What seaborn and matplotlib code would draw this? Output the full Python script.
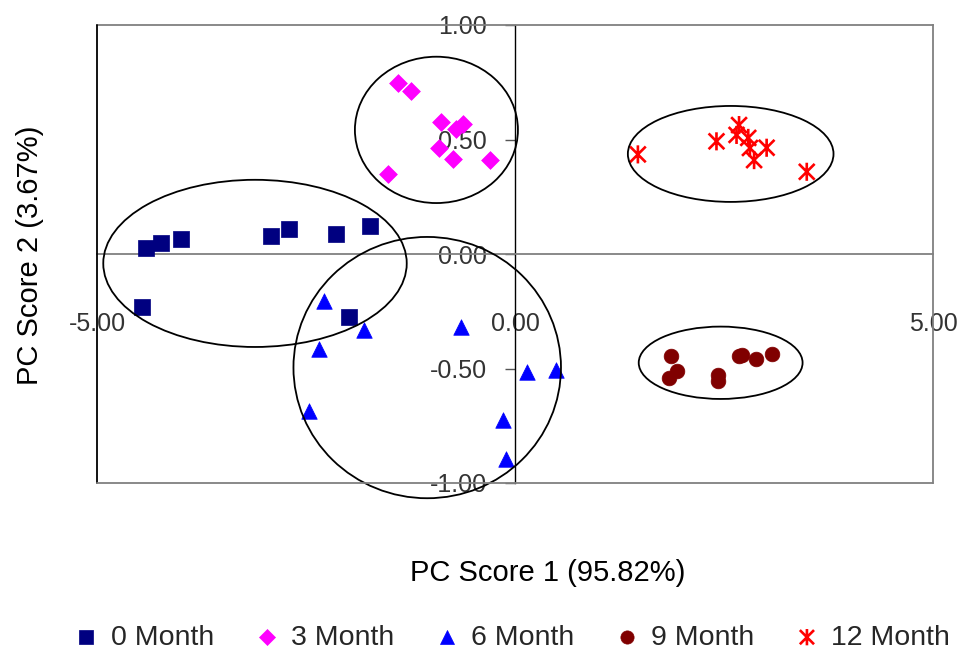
import numpy as np
import pandas as pd
import seaborn as sns
import matplotlib
matplotlib.use("Agg")
import matplotlib.pyplot as plt
from matplotlib.path import Path
from matplotlib.patches import Ellipse

sns.set_style("white")
plt.rcParams["font.family"] = ["Liberation Sans", "DejaVu Sans"]

# PCA scores per storage time
groups = ["0 Month", "3 Month", "6 Month", "9 Month", "12 Month"]
colors = ["#000080", "#FF00FF", "#0000FF", "#800000", "#FF0000"]

pc1_m0 = [-4.41, -4.24, -4.00, -2.92, -2.70, -2.14, -1.73, -4.46, -1.99]
pc2_m0 = [0.028, 0.047, 0.067, 0.080, 0.108, 0.086, 0.122, -0.230, -0.275]

pc1_m3 = [-1.40, -1.24, -0.88, -0.62, -0.70, -0.91, -0.74, -0.30, -1.52]
pc2_m3 = [0.745, 0.710, 0.578, 0.568, 0.547, 0.461, 0.415, 0.409, 0.349]

pc1_m6 = [-2.28, -1.81, -2.34, -2.46, -0.65, 0.14, 0.49, -0.14, -0.11]
pc2_m6 = [-0.204, -0.332, -0.415, -0.686, -0.317, -0.517, -0.507, -0.725, -0.895]

pc1_m9 = [1.865, 1.94, 1.84, 2.43, 2.43, 2.68, 2.72, 2.88, 3.07]
pc2_m9 = [-0.445, -0.511, -0.543, -0.528, -0.555, -0.445, -0.440, -0.459, -0.438]

pc1_m12 = [1.47, 2.41, 2.68, 2.65, 2.79, 2.81, 3.01, 2.86, 3.49]
pc2_m12 = [0.435, 0.492, 0.563, 0.520, 0.507, 0.463, 0.464, 0.410, 0.359]

# cluster ellipses: centre x, centre y, width, height
ell_x = [-3.11, -0.94, -1.05, 2.46, 2.58]
ell_y = [-0.041, 0.542, -0.496, -0.475, 0.437]
ell_w = [3.63, 1.95, 3.20, 1.96, 2.46]
ell_h = [0.73, 0.639, 1.141, 0.316, 0.419]

x_ticks = [-5, 0, 5]
y_ticks = [-1.0, -0.5, 0.0, 0.5, 1.0]

pc1 = [pc1_m0, pc1_m3, pc1_m6, pc1_m9, pc1_m12]
pc2 = [pc2_m0, pc2_m3, pc2_m6, pc2_m9, pc2_m12]
df = pd.concat(
    [pd.DataFrame({"PC1": a, "PC2": b, "group": g}) for a, b, g in zip(pc1, pc2, groups)],
    ignore_index=True,
)

# asterisk: an X with a vertical bar through it
star = Path(
    [(-1, -1), (1, 1), (-1, 1), (1, -1), (0, -1.15), (0, 1.15)],
    [Path.MOVETO, Path.LINETO, Path.MOVETO, Path.LINETO, Path.MOVETO, Path.LINETO],
)
markers = ["s", "D", "^", "o", star]
sizes = [130, 82, 125, 112, 170]

fig = plt.figure(figsize=(9.58, 6.5), dpi=100)
ax = fig.add_axes([97 / 958, 1 - 483 / 650, 836 / 958, 458 / 650])

for g, c, m, s in zip(groups, colors, markers, sizes):
    sub = df[df["group"] == g]
    if m is star:
        sns.scatterplot(data=sub, x="PC1", y="PC2", ax=ax, marker=m, s=s,
                        facecolor="none", edgecolor=c, linewidth=1.9, label=g, zorder=3)
    else:
        sns.scatterplot(data=sub, x="PC1", y="PC2", ax=ax, marker=m, s=s,
                        color=c, edgecolor=c, linewidth=0.5, label=g, zorder=3)

for cx, cy, w, h in zip(ell_x, ell_y, ell_w, ell_h):
    ax.add_patch(Ellipse((cx, cy), w, h, fill=False, edgecolor="black", lw=1.3,
                         zorder=4, clip_on=False))

ax.set_xlim(-5, 5)
ax.set_ylim(-1, 1)

# axes cross at the origin
ax.spines["left"].set_position(("data", 0))
ax.spines["left"].set_color("black")
ax.spines["left"].set_linewidth(1.0)
ax.spines["bottom"].set_position(("data", 0))
ax.spines["bottom"].set_color("#808080")
ax.spines["bottom"].set_linewidth(1.3)
for side in ["top", "right"]:
    ax.spines[side].set_color("#808080")
    ax.spines[side].set_linewidth(1.3)
    ax.spines[side].set_visible(True)

# outer frame edges
ax.plot([0, 0], [0, 1], transform=ax.transAxes, color="black", lw=1.3, clip_on=False, zorder=5)
ax.plot([0, 1], [0, 0], transform=ax.transAxes, color="#808080", lw=1.3, clip_on=False, zorder=5)

ax.set_xticks(x_ticks)
ax.set_xticklabels([f"{v:.2f}" for v in x_ticks])
ax.set_yticks(y_ticks)
ax.set_yticklabels([f"{v:.2f}" for v in y_ticks])
ax.tick_params(axis="x", length=0, pad=42, labelsize=18, colors="#333333")
ax.tick_params(axis="y", direction="out", length=7, width=1.0, color="#555555",
               pad=13, labelsize=18, labelcolor="#333333", left=True)

ax.set_xlabel("PC Score 1 (95.82%)", fontsize=21, color="black")
ax.xaxis.set_label_coords(0.5395, -0.1965)
ax.xaxis.label.set_va("center")
ax.set_ylabel("PC Score 2 (3.67%)", fontsize=21, color="black")
ax.yaxis.set_label_coords(-0.080, 0.498)
ax.yaxis.label.set_va("center")

ax.legend(loc="center", bbox_to_anchor=(0.535, 0.019), bbox_transform=fig.transFigure,
          ncol=5, frameon=False, fontsize=20.5, handlelength=0.8, handletextpad=0.45,
          columnspacing=1.45, markerscale=0.9)

fig.savefig("out.png", dpi=100)
